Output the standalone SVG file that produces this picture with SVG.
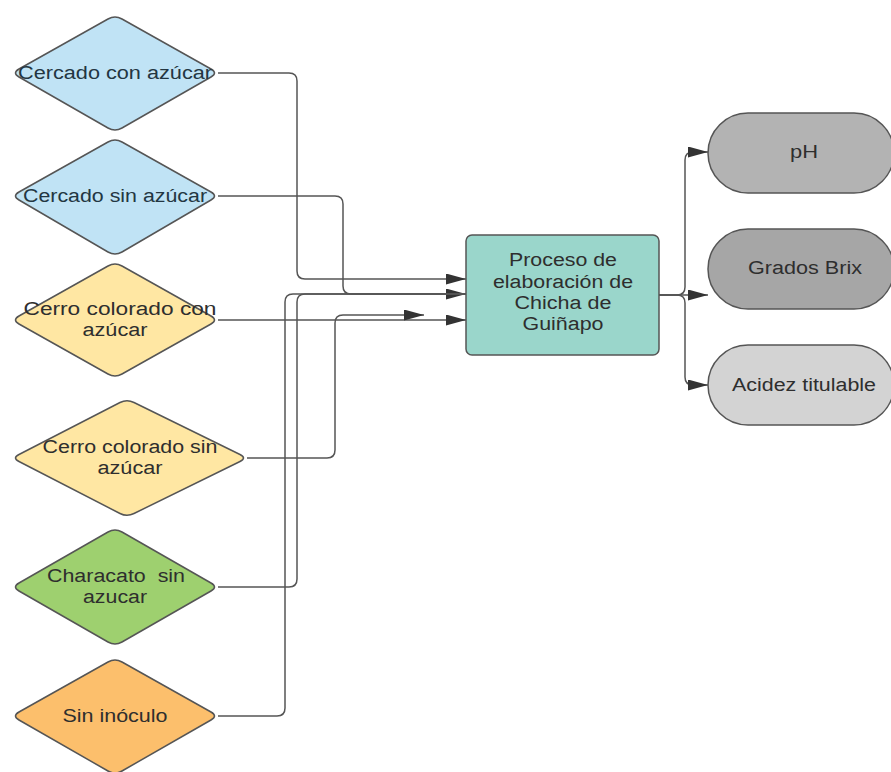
<svg xmlns="http://www.w3.org/2000/svg" width="891" height="772" viewBox="0 0 891 772">
  <style>
    .dia { stroke: #555; stroke-width: 1.5; stroke-linejoin: round; }
    .lbl { font-family: "Liberation Sans", Arial, sans-serif; font-size: 18px; fill: #2e2e2e; text-anchor: middle; }
    .lblb { fill: #233642; }
    .edge { fill: none; stroke: #555; stroke-width: 1.5; }
    .proc { fill: #9ad6cb; stroke: #555; stroke-width: 1.5; }
    .pill { stroke: #555; stroke-width: 1.5; }
  </style>
  <defs>
    <marker id="arrow" markerUnits="userSpaceOnUse" markerWidth="20" markerHeight="11" refX="20" refY="5.5" orient="auto">
      <path d="M0,0 L20,5.5 L0,11 z" fill="#333"/>
    </marker>
  </defs>
  <rect width="891" height="772" fill="#fff"/>

  <!-- connectors -->
  <g id="connectors">
    <path class="edge" d="M218,73 H289 Q297,73 297,81 V271 Q297,279 305,279 H466" marker-end="url(#arrow)"/>
    <path class="edge" d="M218,196 H335 Q343,196 343,204 V286 Q343,294 351,294 H466" marker-end="url(#arrow)"/>
    <path class="edge" d="M218,320 H466" marker-end="url(#arrow)"/>
    <path class="edge" d="M247,458 H327 Q335,458 335,450 V323 Q335,315 343,315 H424" marker-end="url(#arrow)"/>
    <path class="edge" d="M218,587 H289 Q297,587 297,579 V302 Q297,294 305,294 H466"/>
    <path class="edge" d="M218,716 H277 Q285,716 285,708 V302 Q285,294 293,294 H466"/>
    <path class="edge" d="M659,295 H677 Q685,295 685,287 V160 Q685,152 693,152 H708" marker-end="url(#arrow)"/>
    <path class="edge" d="M659,295 H708" marker-end="url(#arrow)"/>
    <path class="edge" d="M659,295 H677 Q685,295 685,303 V377 Q685,385 693,385 H708" marker-end="url(#arrow)"/>
  </g>

  <!-- decision shapes: rounded-corner diamonds -->
  <g id="cercado-con">
    <path class="dia" fill="#c0e3f5" d="M108,19 Q115,15 122,19 L211,69 Q218,73 211,77 L122,128 Q115,132 108,128 L19,77 Q12,73 19,69 Z"/>
    <text class="lbl lblb" x="115" y="79" textLength="194" lengthAdjust="spacingAndGlyphs">Cercado con azúcar</text>
  </g>
  <g id="cercado-sin">
    <path class="dia" fill="#c0e3f5" d="M108,142 Q115,138 122,142 L211,192 Q218,196 211,200 L122,252 Q115,256 108,252 L19,200 Q12,196 19,192 Z"/>
    <text class="lbl lblb" x="115" y="202" textLength="184" lengthAdjust="spacingAndGlyphs">Cercado sin azúcar</text>
  </g>
  <g id="cerro-con">
    <path class="dia" fill="#ffe7a3" d="M108,266 Q115,262 122,266 L211,316 Q218,320 211,324 L122,374 Q115,378 108,374 L19,324 Q12,320 19,316 Z"/>
    <text class="lbl" x="120" y="315" textLength="193" lengthAdjust="spacingAndGlyphs">Cerro colorado con</text>
    <text class="lbl" x="115" y="336" textLength="65" lengthAdjust="spacingAndGlyphs">azúcar</text>
  </g>
  <g id="cerro-sin">
    <path class="dia" fill="#ffe7a3" d="M120,402.5 Q127,399 134,402.5 L240,454.5 Q247,458 240,461.5 L134,513.5 Q127,517 120,513.5 L19,461.5 Q12,458 19,454.5 Z"/>
    <text class="lbl" x="130" y="453" textLength="175" lengthAdjust="spacingAndGlyphs">Cerro colorado sin</text>
    <text class="lbl" x="130" y="474" textLength="65" lengthAdjust="spacingAndGlyphs">azúcar</text>
  </g>
  <g id="characato">
    <path class="dia" fill="#9ed06f" d="M108,532 Q115,528 122,532 L211,583 Q218,587 211,591 L122,642 Q115,646 108,642 L19,591 Q12,587 19,583 Z"/>
    <text class="lbl" x="116" y="582" textLength="138" lengthAdjust="spacingAndGlyphs" xml:space="preserve">Characato  sin</text>
    <text class="lbl" x="115" y="603" textLength="64" lengthAdjust="spacingAndGlyphs">azucar</text>
  </g>
  <g id="sin-inoculo">
    <path class="dia" fill="#fcbf6c" d="M108,662 Q115,658 122,662 L211,712 Q218,716 211,720 L122,771 Q115,775 108,771 L19,720 Q12,716 19,712 Z"/>
    <text class="lbl" x="115" y="722" textLength="105" lengthAdjust="spacingAndGlyphs">Sin inóculo</text>
  </g>

  <g id="proceso">
    <rect class="proc" x="466" y="235" width="193" height="120" rx="6"/>
    <text class="lbl" x="563" y="266" textLength="108" lengthAdjust="spacingAndGlyphs">Proceso de</text>
    <text class="lbl" x="563" y="288" textLength="140" lengthAdjust="spacingAndGlyphs">elaboración de</text>
    <text class="lbl" x="563" y="309" textLength="97" lengthAdjust="spacingAndGlyphs">Chicha de</text>
    <text class="lbl" x="563" y="330" textLength="81" lengthAdjust="spacingAndGlyphs">Guiñapo</text>
  </g>

  <g id="ph">
    <rect class="pill" fill="#b3b3b3" x="708" y="113" width="186" height="80" rx="40"/>
    <text class="lbl" x="804" y="158" textLength="28" lengthAdjust="spacingAndGlyphs">pH</text>
  </g>
  <g id="brix">
    <rect class="pill" fill="#a6a6a6" x="708" y="229" width="186" height="80" rx="40"/>
    <text class="lbl" x="805" y="274" textLength="114" lengthAdjust="spacingAndGlyphs">Grados Brix</text>
  </g>
  <g id="acidez">
    <rect class="pill" fill="#d3d3d3" x="708" y="345" width="186" height="80" rx="40"/>
    <text class="lbl" x="804" y="391" textLength="144" lengthAdjust="spacingAndGlyphs">Acidez titulable</text>
  </g>
</svg>
